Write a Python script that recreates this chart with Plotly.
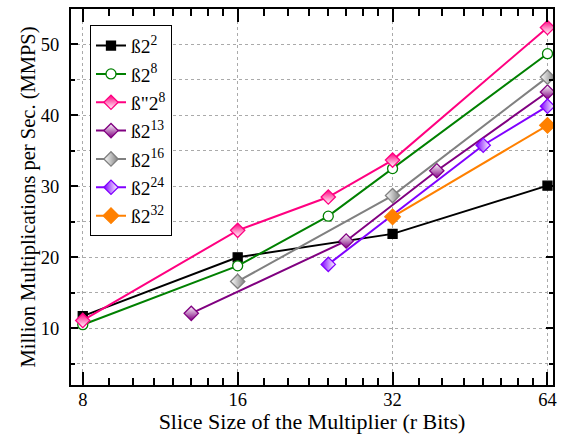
import math
import plotly.graph_objects as go

# ---- data ----
series_names = ["ß2<sup>2</sup>", "ß2<sup>8</sup>", "ß\"2<sup>8</sup>", "ß2<sup>13</sup>",
                "ß2<sup>16</sup>", "ß2<sup>24</sup>", "ß2<sup>32</sup>"]
x_b2_2 = [8, 16, 32, 64]
y_b2_2 = [11.7, 20.0, 23.3, 30.1]
x_b2_8 = [8, 16, 24, 32, 64]
y_b2_8 = [10.5, 18.8, 25.8, 32.5, 48.7]
x_bb2_8 = [8, 16, 24, 32, 64]
y_bb2_8 = [11.1, 23.8, 28.5, 33.7, 52.4]
x_b2_13 = [13, 26, 39, 64]
y_b2_13 = [12.1, 22.3, 32.2, 43.3]
x_b2_16 = [16, 32, 64]
y_b2_16 = [16.6, 28.7, 45.4]
x_b2_24 = [24, 48, 64]
y_b2_24 = [19.0, 35.8, 41.3]
x_b2_32 = [32, 64]
y_b2_32 = [25.7, 38.6]

x_tick_vals = [8, 16, 32, 64]
x_minor_vals = [9, 10, 11, 12, 13, 14, 15, 18, 20, 22, 24, 26, 28, 30, 36, 40, 44, 48, 52, 56, 60]
y_tick_vals = [10, 20, 30, 40, 50]

FONT = "Liberation Serif"

styles = [
    dict(color="#000000", symbol="square", size=9, fill="#000000", grad=None),
    dict(color="#008000", symbol="circle", size=10, fill="#ffffff", grad=None),
    dict(color="#ff0080", symbol="diamond", size=11, fill="#ff0080", grad=("vertical", "#ffffff")),
    dict(color="#800080", symbol="diamond", size=11, fill="#ffffff", grad=("vertical", "#800080")),
    dict(color="#808080", symbol="diamond", size=11, fill="#ffffff", grad=("horizontal", "#808080")),
    dict(color="#8000ff", symbol="diamond", size=11, fill="#8000ff", grad=("horizontal", "#ffffff")),
    dict(color="#ff8000", symbol="diamond", size=12, fill="#ff8000", grad=None),
]
data = [(x_b2_2, y_b2_2), (x_b2_8, y_b2_8), (x_bb2_8, y_bb2_8), (x_b2_13, y_b2_13),
        (x_b2_16, y_b2_16), (x_b2_24, y_b2_24), (x_b2_32, y_b2_32)]

fig = go.Figure()
for name, (xs, ys), st in zip(series_names, data, styles):
    marker = dict(symbol=st["symbol"], size=st["size"], color=st["fill"],
                  line=dict(color=st["color"], width=1.3))
    if st["grad"]:
        marker["gradient"] = dict(type=st["grad"][0], color=st["grad"][1])
    fig.add_trace(go.Scatter(x=xs, y=ys, mode="lines+markers", name=name,
                             line=dict(color=st["color"], width=2), marker=marker))

fig.update_layout(
    width=573, height=434,
    margin=dict(l=71, r=20, t=9, b=49),
    paper_bgcolor="white", plot_bgcolor="white",
    font=dict(family=FONT, size=18, color="black"),
    showlegend=True,
    legend=dict(x=0.039, y=0.957, xanchor="left", yanchor="top",
                bgcolor="white", bordercolor="black", borderwidth=1.2,
                font=dict(family=FONT, size=19.5), tracegroupgap=0,
                itemwidth=30),
)
fig.update_xaxes(
    type="log", range=[math.log10(7.59), math.log10(65.6)],
    tickmode="array", tickvals=x_tick_vals, ticktext=[str(v) for v in x_tick_vals],
    ticks="inside", ticklen=13, tickwidth=1.5, tickcolor="black",
    showline=True, linecolor="black", linewidth=2, mirror="allticks",
    showgrid=True, gridcolor="#aaaaaa", griddash="dot", gridwidth=1,
    minor=dict(tickmode="array", tickvals=x_minor_vals, ticks="inside", ticklen=7,
               tickwidth=1.5, tickcolor="black", showgrid=False),
    tickfont=dict(size=18.5), automargin=False, ticklabelstandoff=-3,
    title=dict(text="Slice Size of the Multiplier (r Bits)", font=dict(size=22), standoff=0),
    zeroline=False,
)
fig.update_yaxes(
    range=[2, 55],
    tickmode="array", tickvals=y_tick_vals,
    ticks="inside", ticklen=7, tickwidth=1.5, tickcolor="black",
    showline=True, linecolor="black", linewidth=2, mirror="allticks",
    showgrid=True, gridcolor="#aaaaaa", griddash="dot", gridwidth=1,
    minor=dict(dtick=5, tick0=0, ticks="inside", ticklen=4, tickwidth=1.5,
               tickcolor="black", showgrid=True, gridcolor="#aaaaaa", griddash="dot", gridwidth=1),
    tickfont=dict(size=18.5), automargin=False, ticklabelstandoff=6,
    title=dict(text="Million Multiplications per Sec. (MMPS)", font=dict(size=20.5), standoff=0),
    zeroline=False,
)

fig.write_html("out.html")
